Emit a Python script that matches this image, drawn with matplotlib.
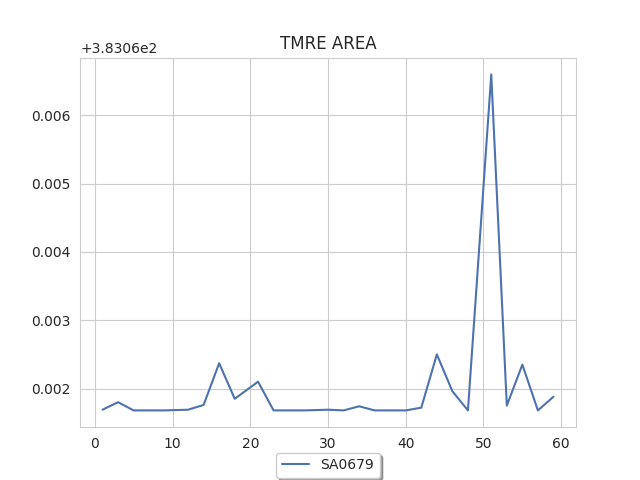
import numpy as np
import matplotlib.pyplot as plt
import seaborn as sns

sns.set_style("whitegrid")

base = 383.06
x = [1, 3, 5, 7, 9, 12, 14, 16, 18, 21, 23, 25, 27, 30, 32, 34, 36, 38, 40, 42, 44, 46, 48, 51, 53, 55, 57, 59]
dy = [0.00169, 0.0018, 0.00168, 0.00168, 0.00168, 0.00169, 0.00176, 0.00237, 0.00185, 0.0021,
      0.00168, 0.00168, 0.00168, 0.00169, 0.00168, 0.00174, 0.00168, 0.00168, 0.00168, 0.00172,
      0.0025, 0.00196, 0.00168, 0.0066, 0.00175, 0.00235, 0.00168, 0.00188]
y = [base + d for d in dy]

fig, ax = plt.subplots(figsize=(6.4, 4.8), dpi=100)
ax.plot(x, y, color='#4c72b0', label='SA0679')
ax.set_title('TMRE AREA')
ax.legend(loc='upper center', bbox_to_anchor=(0.5, -0.05), shadow=True)
fig.savefig('out.png')
